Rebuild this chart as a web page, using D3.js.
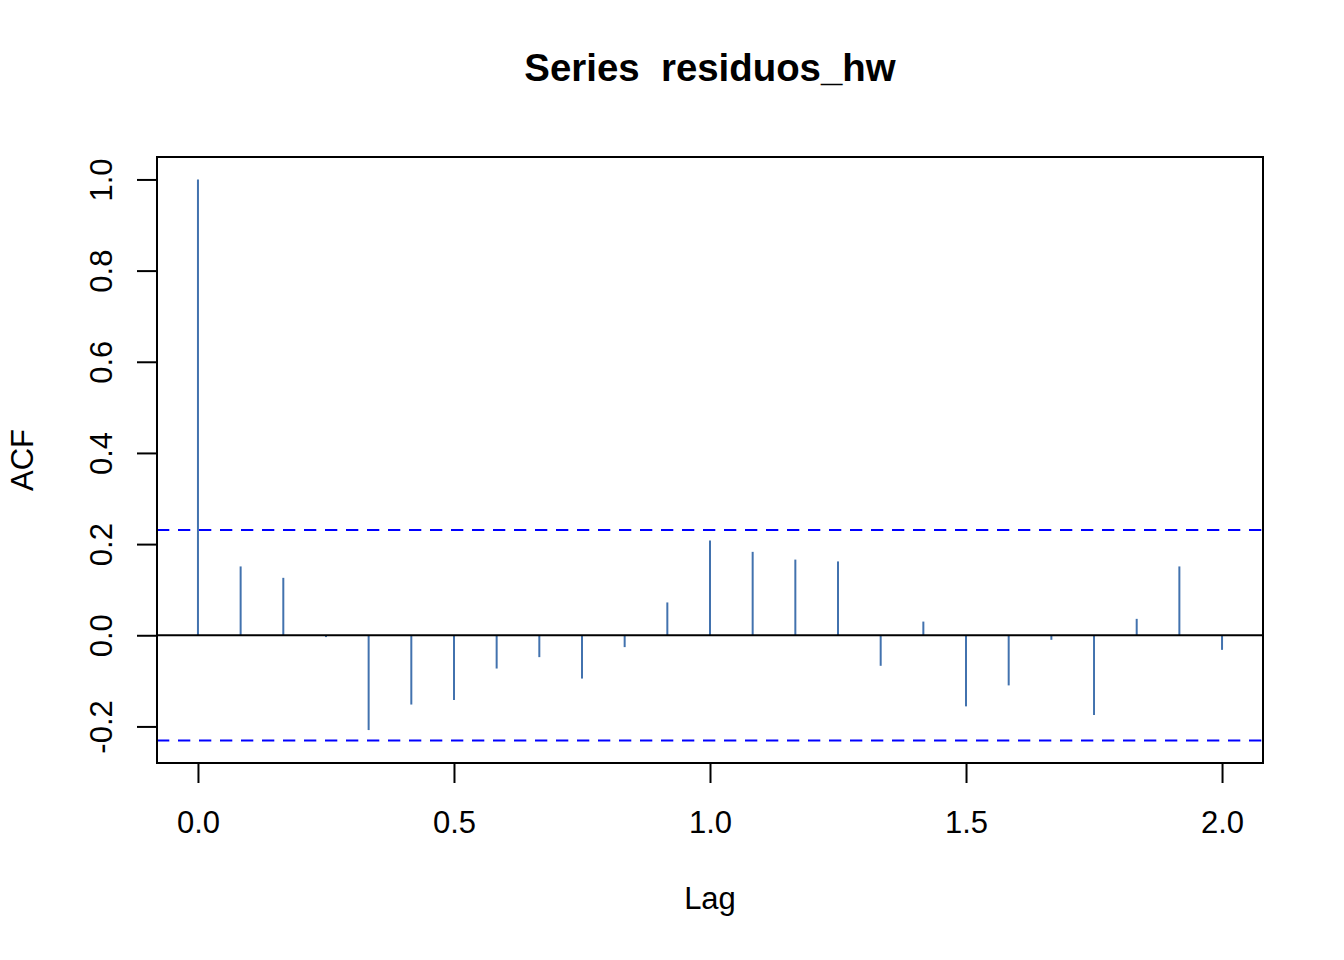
<!DOCTYPE html>
<html>
<head>
<meta charset="utf-8">
<script src="https://cdn.jsdelivr.net/npm/d3@7"></script>
<style>
  html, body { margin: 0; padding: 0; background: #ffffff; }
  svg { display: block; font-family: "Liberation Sans", Arial, sans-serif; }
</style>
</head>
<body>
<svg id="chart" width="1344" height="960"></svg>
<script>
// Data: sample ACF of residuos_hw (monthly series, lags in years)
const lags = d3.range(0, 25).map(k => k / 12);
const acfValues = [
  1.000, 0.151, 0.126, -0.004, -0.208, -0.152, -0.142, -0.073, -0.048,
  -0.095, -0.026, 0.072, 0.208, 0.183, 0.166, 0.162, -0.067, 0.030,
  -0.156, -0.110, -0.010, -0.175, 0.036, 0.151, -0.032
];
const confLimit = 0.231;
const xTicks = [0, 0.5, 1.0, 1.5, 2.0];
const yTicks = [-0.2, 0.0, 0.2, 0.4, 0.6, 0.8, 1.0];
const titleText = "Series  residuos_hw";
const xLabel = "Lag";
const yLabel = "ACF";

(function () {
const svg = d3.select("#chart");
const pLeft = 157, pRight = 1263, pTop = 157, pBottom = 763;
const fmt = d => d3.format(".1f")(d).replace("\u2212", "-");

// R-style 4% axis extension
const xmin = 0, xmax = 2;
const ymin = -confLimit, ymax = 1;
const xr = (xmax - xmin) * 0.04, yr = (ymax - ymin) * 0.04;
const x = d3.scaleLinear().domain([xmin - xr, xmax + xr]).range([pLeft, pRight]);
const y = d3.scaleLinear().domain([ymin - yr, ymax + yr]).range([pBottom, pTop]);

svg.append("defs").append("clipPath").attr("id", "plotclip")
  .append("rect").attr("x", pLeft).attr("y", pTop)
  .attr("width", pRight - pLeft).attr("height", pBottom - pTop);

const plot = svg.append("g").attr("clip-path", "url(#plotclip)");

// spikes
plot.selectAll("line.spike").data(acfValues).enter().append("line")
  .attr("class", "spike")
  .attr("x1", (d, i) => x(lags[i])).attr("x2", (d, i) => x(lags[i]))
  .attr("y1", y(0)).attr("y2", d => y(d))
  .attr("stroke", "#4272ae").attr("stroke-width", 2);

// zero line
plot.append("line")
  .attr("x1", pLeft).attr("x2", pRight)
  .attr("y1", y(0)).attr("y2", y(0))
  .attr("stroke", "#000").attr("stroke-width", 2);

// confidence limits
[confLimit, -confLimit].forEach(c => {
  plot.append("line")
    .attr("x1", pLeft).attr("x2", pRight)
    .attr("y1", y(c)).attr("y2", y(c))
    .attr("stroke", "#0000ff").attr("stroke-width", 2)
    .attr("stroke-dasharray", "12.3,8.7");
});

// frame
svg.append("rect")
  .attr("x", pLeft).attr("y", pTop)
  .attr("width", pRight - pLeft).attr("height", pBottom - pTop)
  .attr("fill", "none").attr("stroke", "#000").attr("stroke-width", 2);

// x axis
const xAxis = d3.axisBottom(x).tickValues(xTicks).tickSize(20).tickPadding(0)
  .tickFormat(fmt);
const gx = svg.append("g").attr("transform", `translate(0,${pBottom})`).call(xAxis);
gx.select(".domain")
  .attr("d", `M${x(xTicks[0])},0H${x(xTicks[xTicks.length - 1])}`)
  .attr("stroke-width", 2);
gx.selectAll(".tick line").attr("stroke-width", 2);
gx.selectAll(".tick text")
  .attr("y", 70).attr("dy", null)
  .attr("font-size", 31).attr("fill", "#000")
  .attr("font-family", "Liberation Sans, Arial, sans-serif");

// y axis
const yAxis = d3.axisLeft(y).tickValues(yTicks).tickSize(20).tickPadding(0)
  .tickFormat(fmt);
const gy = svg.append("g").attr("transform", `translate(${pLeft},0)`).call(yAxis);
gy.select(".domain")
  .attr("d", `M0,${y(yTicks[0])}V${y(yTicks[yTicks.length - 1])}`)
  .attr("stroke-width", 2);
gy.selectAll(".tick line").attr("stroke-width", 2);
gy.selectAll(".tick text").remove();
gy.selectAll(".tick").append("text")
  .attr("transform", "translate(-45,0) rotate(-90)")
  .attr("text-anchor", "middle")
  .attr("font-size", 31).attr("fill", "#000")
  .attr("font-family", "Liberation Sans, Arial, sans-serif")
  .text(d => fmt(d));

// title
svg.append("text")
  .attr("x", (pLeft + pRight) / 2).attr("y", 81)
  .attr("text-anchor", "middle")
  .attr("font-size", 38.4).attr("font-weight", "bold")
  .attr("fill", "#000")
  .style("white-space", "pre")
  .text(titleText);

// axis labels
svg.append("text")
  .attr("x", (pLeft + pRight) / 2).attr("y", 909)
  .attr("text-anchor", "middle")
  .attr("font-size", 31).attr("fill", "#000")
  .text(xLabel);

svg.append("text")
  .attr("transform", `translate(33,${(pTop + pBottom) / 2}) rotate(-90)`)
  .attr("text-anchor", "middle")
  .attr("font-size", 31).attr("fill", "#000")
  .text(yLabel);
})();
</script>
</body>
</html>
